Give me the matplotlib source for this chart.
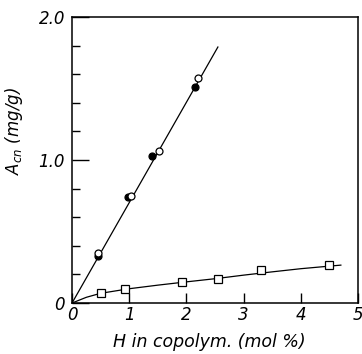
import matplotlib
matplotlib.use("Agg")
import matplotlib.pyplot as plt

# circles (steep series): open and filled
open_x = [0.46, 1.03, 1.52, 2.21]
open_y = [0.35, 0.75, 1.06, 1.57]
filled_x = [0.45, 0.98, 1.40, 2.15]
filled_y = [0.33, 0.74, 1.03, 1.51]
line_x = [0.0, 2.55]
line_y = [0.0, 1.79]

# squares (flat series) and the hand-drawn curve through them
sq_x = [0.51, 0.92, 1.93, 2.55, 3.30, 4.50]
sq_y = [0.072, 0.098, 0.147, 0.168, 0.229, 0.268]
curve_x = [0.0, 0.25, 0.5, 1.0, 1.5, 2.0, 2.5, 3.0, 3.5, 4.0, 4.5, 4.7]
curve_y = [0.0, 0.04, 0.068, 0.10, 0.125, 0.148, 0.17, 0.195, 0.218, 0.24, 0.258, 0.265]

xticks = [0, 1, 2, 3, 4, 5]
yticks_major = [0, 1.0, 2.0]
ytick_labels = ["0", "1.0", "2.0"]
yticks_minor = [0.2, 0.4, 0.6, 0.8, 1.2, 1.4, 1.6, 1.8]

fig = plt.figure(figsize=(3.62, 3.54), dpi=100)
ax = fig.add_axes([0.199, 0.144, 0.79, 0.808])

ax.plot(line_x, line_y, color="black", lw=0.9)
ax.plot(curve_x, curve_y, color="black", lw=0.9)
ax.plot(filled_x, filled_y, "o", ms=5, mfc="black", mec="black", mew=0.9)
ax.plot(open_x, open_y, "o", ms=5, mfc="white", mec="black", mew=0.9)
ax.plot(sq_x, sq_y, "s", ms=5.5, mfc="white", mec="black", mew=0.9)

ax.set_xlim(0, 5)
ax.set_ylim(0, 2.0)
ax.set_xticks(xticks)
ax.set_xticklabels([str(t) for t in xticks], fontstyle="italic", fontsize=12)
ax.set_yticks(yticks_major)
ax.set_yticklabels(ytick_labels, fontstyle="italic", fontsize=12)
ax.set_yticks(yticks_minor, minor=True)
ax.tick_params(axis="both", which="major", direction="in", length=7, width=1, pad=2)
ax.tick_params(axis="y", which="major", length=12, pad=5)
ax.tick_params(axis="y", which="minor", direction="in", length=6, width=1)
for s in ax.spines.values():
    s.set_linewidth(1.1)

ax.set_xlabel("H in copolym. (mol %)", fontstyle="italic", fontsize=12.5)
ax.xaxis.set_label_coords(0.48, -0.105)
ax.set_ylabel(r"$\mathit{A_{cn}}$ (mg/g)", fontstyle="italic", fontsize=12)
ax.yaxis.set_label_coords(-0.165, 0.6)

fig.savefig("out.png", dpi=100)
